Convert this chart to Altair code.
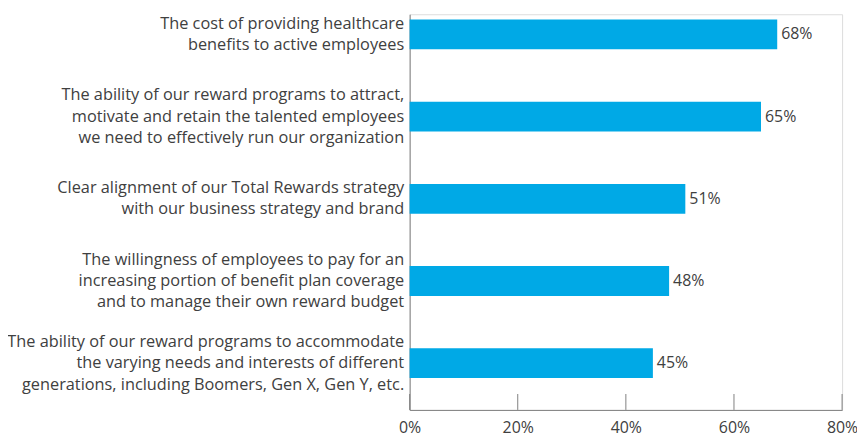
import altair as alt
import pandas as pd

categories = [
    "The cost of providing healthcare|benefits to active employees",
    "The ability of our reward programs to attract,|motivate and retain the talented employees|we need to effectively run our organization",
    "Clear alignment of our Total Rewards strategy|with our business strategy and brand",
    "The willingness of employees to pay for an|increasing portion of benefit plan coverage|and to manage their own reward budget",
    "The ability of our reward programs to accommodate|the varying needs and interests of different|generations, including Boomers, Gen X, Gen Y, etc.",
]
values = [68, 65, 51, 48, 45]
tick_values = [0, 20, 40, 60, 80]

FONT = "Open Sans"
TEXT = "#404040"
AXIS = "#808080"
BAR = "#00A9E6"
LH = 21.5

df = pd.DataFrame({"cat": categories, "val": values, "lab": [f"{v}%" for v in values]})
ticks = pd.DataFrame({"t": tick_values})

xscale = alt.Scale(domain=[0, 80], nice=False, zero=True)
yscale = alt.Scale(paddingInner=0.6375, paddingOuter=0.2254, align=0.142)

label_offset = {
    "condition": {"test": "length(split(datum.value, '|')) == 3", "value": -LH},
    "value": -LH / 2,
}

bars = alt.Chart(df).mark_bar(color=BAR).encode(
    x=alt.X("val:Q", scale=xscale,
            axis=alt.Axis(values=tick_values, labelExpr="datum.value + '%'", title=None,
                          grid=False, ticks=False, domainColor=AXIS, labelColor=TEXT,
                          labelFont=FONT, labelFontSize=16, labelPadding=10,
                          labelFlush=False)),
    y=alt.Y("cat:N", sort=None, scale=yscale,
            axis=alt.Axis(title=None, ticks=False, grid=False, domainColor=AXIS,
                          labelExpr="split(datum.label, '|')", labelLineHeight=LH,
                          labelOffset=label_offset,
                          labelColor=TEXT, labelFont=FONT, labelFontSize=16.4,
                          labelPadding=6, labelLimit=0)),
)

labels = alt.Chart(df).mark_text(align="left", baseline="middle", dx=4, font=FONT,
                                 fontSize=16, color=TEXT).encode(
    x=alt.X("val:Q", scale=xscale),
    y=alt.Y("cat:N", sort=None, scale=yscale),
    text="lab:N",
)

tickmarks = alt.Chart(ticks).mark_rule(color=AXIS, strokeWidth=1).encode(
    x=alt.X("t:Q", scale=xscale),
    y=alt.value(398),
    y2=alt.value(382),
)

chart = alt.layer(bars, labels, tickmarks).properties(
    width=435, height=398,
    autosize=alt.AutoSizeParams(type="none"),
    padding={"left": 404, "top": 5, "right": 15, "bottom": 32},
).configure_view(stroke=None).configure(background="white")

chart.save("out.html", embed_options={"renderer": "svg", "actions": False})
